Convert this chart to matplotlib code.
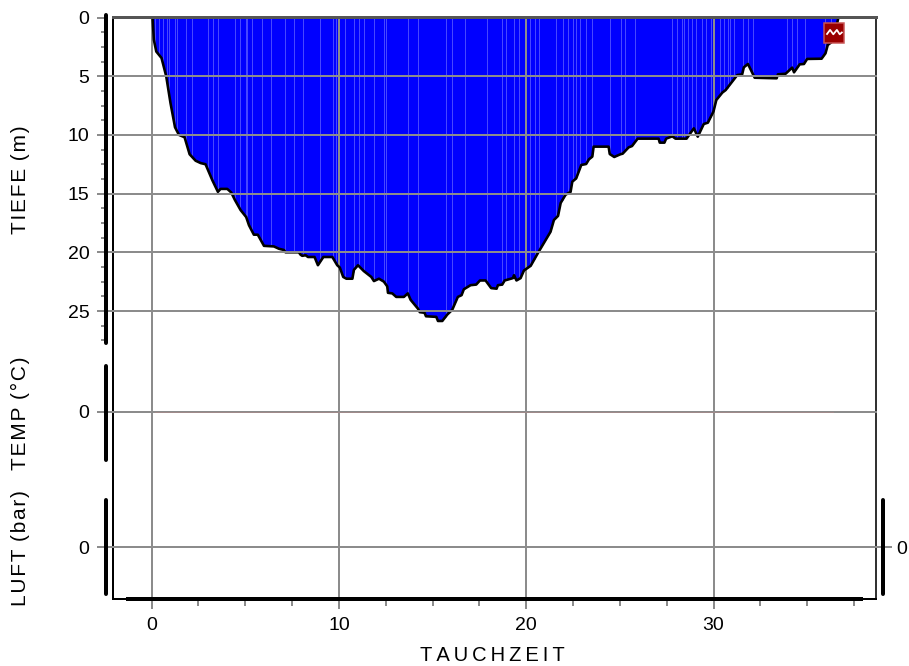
import matplotlib
matplotlib.use("Agg")
import matplotlib.pyplot as plt
import numpy as np
from matplotlib.path import Path

plt.rcParams['font.family'] = ['Liberation Sans', 'DejaVu Sans']

time_min = [0.05,0.12,0.25,0.53,0.78,1.01,1.25,1.46,1.76,2.03,2.35,2.62,2.88,3.24,3.54,3.68,4.04,4.25,4.45,4.75,5.05,5.2,5.46,5.67,6.0,6.53,6.8,7.06,7.15,7.86,7.95,
            8.04,8.22,8.35,8.7,8.88,9.17,9.65,9.91,10.05,10.23,10.4,10.72,10.8,11.02,11.33,11.73,11.87,12.14,12.4,12.58,12.62,12.85,13.06,13.47,13.68,13.83,14.22,14.32,14.57,14.65,15.2,15.29,15.52,15.79,16.05,16.35,16.55,16.67,17.03,17.33,17.53,17.83,18.13,18.42,18.49,18.72,18.85,19.29,19.35,19.48,19.7,19.88,20.24,20.63,21.3,21.48,21.7,21.84,22.1,22.37,
            22.46,22.67,22.94,23.2,23.35,23.53,23.6,24.4,24.46,24.7,25.03,25.15,25.47,25.65,25.95,27.07,27.13,27.38,27.47,27.8,27.97,28.56,28.95,29.16,29.48,29.7,30.0,
            30.15,30.47,30.65,31.27,31.53,31.62,31.84,32.2,33.37,33.44,33.85,34.2,34.3,34.6,34.83,35.0,35.77,35.98,36.1,36.3,36.5,36.67]
depth_m = [0,1.9,2.9,3.45,5.0,7.3,9.35,10.0,10.2,11.65,12.2,12.4,12.5,13.85,14.85,14.6,14.6,14.9,15.55,16.4,17.0,17.7,18.5,18.5,19.45,19.5,19.7,19.8,20.0,20.0,20.2,
           20.3,20.25,20.4,20.4,21.1,20.4,20.4,21.1,21.3,22.1,22.25,22.25,21.5,21.1,21.6,22.1,22.45,22.25,22.5,22.9,23.45,23.5,23.8,23.8,23.5,24.05,24.8,25.1,25.15,25.45,25.5,25.85,25.85,25.3,24.9,23.8,23.65,23.15,22.8,22.75,22.4,22.4,23.05,23.1,22.8,22.75,22.4,22.2,21.95,22.4,22.2,21.55,21.15,20.05,18.25,17.25,16.9,15.8,15.1,14.85,
           13.99,13.7,12.56,12.48,12.08,11.85,11.0,11.0,11.63,11.88,11.65,11.6,11.06,10.95,10.32,10.32,10.66,10.66,10.32,10.12,10.32,10.32,9.44,10.15,9.07,8.96,8.0,
           7.03,6.4,6.18,4.9,4.84,4.24,3.96,5.13,5.18,4.84,4.79,4.27,4.67,3.99,3.96,3.53,3.51,3.05,2.34,2.1,1.2,0]
stripe_times = [0.19,0.37,0.6,0.81,0.95,1.25,1.34,1.84,2.14,3.02,3.28,3.55,4.47,4.74,5.04,5.12,5.36,5.9,6.4,7.1,7.6,
                8.1,9.0,9.7,9.85,10.35,10.78,11.05,11.36,11.9,12.4,12.5,13.7,14.2,15.7,16.05,16.75,17.9,18.7,18.9,19.35,19.6,20.2,20.45,20.7,
                21.6,21.95,22.25,22.5,22.65,22.85,23.2,23.5,24.45,25.05,25.3,25.8,
                27.8,28.05,28.3,28.4,28.65,28.85,29.05,29.4,29.6,29.85,30.35,30.55,30.75,30.9,31.1,31.6,31.85,32.1,33.95,34.2,34.45,34.9,35.95,36.25]
temp_time = [0.2, 36.4]
temp_value = [0, 0]
depth_majors = [0, 5, 10, 15, 20, 25]
depth_minors = [1.25,2.5,3.75,6.25,7.5,8.75,11.25,12.5,13.75,16.25,17.5,18.75,21.25,22.5,23.75,26.25,27.5]
time_majors = [0, 10, 20, 30]
time_minors = [2.5,5,7.5,12.5,15,17.5,22.5,25,27.5,32.5,35,37.5]
event_time = [36.44]
event_depth = [1.28]

W, H = 909, 666
L, R, T, B = 113, 875.5, 17, 599
X0 = 151.6
pos = [L/W, 1-B/H, (R-L)/W, (B-T)/H]
px = 0.72
GRAY = '#8c8c8c'
FS = 14
LABEL_FS = 15

fig = plt.figure(figsize=(W/100, H/100), dpi=100, facecolor='white')
ax = fig.add_axes(pos)
xlim = ((L-X0)/18.73, (R-X0)/18.73)
ax.set_xlim(xlim)
ax.set_ylim((B-17.5)/11.74, (T-17.5)/11.74)

ax.fill_between(time_min, 0, depth_m, color='#0000ff', lw=0, zorder=1)
st = np.array(stripe_times)
ax.vlines(st, 0, np.interp(st, time_min, depth_m), color='#5a5aff', lw=0.8*px, zorder=1.5)
ax.plot(time_min, depth_m, color='black', lw=2.6*px, zorder=3)

# frame
for s, c, w in [('left','black',2),('right','#333333',2),('top','#555555',3),('bottom','black',2)]:
    ax.spines[s].set_color(c)
    ax.spines[s].set_linewidth(w*px)
    ax.spines[s].set_zorder(5)

# time axis
ax.set_xticks(time_majors)
ax.set_xticks(time_minors, minor=True)
ax.tick_params(axis='x', which='major', length=10*px, width=2*px, color=GRAY, labelsize=FS, pad=5.5)
ax.tick_params(axis='x', which='minor', length=7*px, width=2*px, color=GRAY)
ax.grid(True, axis='x', which='major', color=GRAY, lw=2*px, zorder=2)
ax.set_axisbelow(False)
ax.set_xlabel('T\u2009A\u2009U\u2009C\u2009H\u2009Z\u2009E\u2009I\u2009T', fontsize=14.5)
ax.xaxis.set_label_coords((492-L)/(R-L), -(646-B)/(B-T), transform=ax.transAxes)
ax.xaxis.label.set_va('top')
ax.set_yticks([])

def overlay(ylim):
    a = fig.add_axes(pos)
    a.patch.set_visible(False)
    a.set_xlim(xlim)
    a.set_ylim(ylim)
    a.xaxis.set_visible(False)
    for s in a.spines.values():
        s.set_visible(False)
    return a

def side_axis(a, ticks, bounds, label=None, label_y=None, side='left'):
    sp = a.spines[side]
    sp.set_visible(True)
    sp.set_position(('outward', 7.5*px))
    sp.set_bounds(*bounds)
    sp.set_linewidth(4*px)
    sp.set_color('black')
    sp.set_capstyle('round')
    a.yaxis.set_ticks_position(side)
    a.set_yticks(ticks)
    pad = 7*px if side == 'left' else 4*px
    a.tick_params(axis='y', which='major', length=9*px, width=2*px, color=GRAY, labelsize=FS, pad=pad)
    a.tick_params(axis='y', which='minor', length=5*px, width=2*px, color=GRAY)
    if label:
        a.set_ylabel(label, fontsize=LABEL_FS)
        a.yaxis.set_label_coords((30-L)/(R-L), 1-(label_y-T)/(B-T))

def grid_h(a, vals, left_px=L-8, right_px=R):
    tr = a.get_yaxis_transform()
    for v in vals:
        a.plot([(left_px-L)/(R-L), (right_px-L)/(R-L)], [v, v], transform=tr, color=GRAY, lw=2*px, clip_on=False, zorder=2)

# depth axis
ad = overlay(ax.get_ylim())
side_axis(ad, depth_majors, (-0.2, 27.73), 'T\u200aI\u200aE\u200aF\u200aE\u200a (\u200am\u200a)', 180)
ad.set_yticks(depth_minors, minor=True)
grid_h(ad, depth_majors[1:])

# temperature axis
at = overlay((-(B-412), 412-T))
side_axis(at, [0], (-48, 46), 'T\u200aE\u200aM\u200aP\u200a (\u200a°\u200aC\u200a)', 413)
grid_h(at, [0])
at.plot(temp_time, temp_value, color='#a08a8a', lw=1*px, zorder=2.5)

# air axis
aa = overlay((-(B-547), 547-T))
side_axis(aa, [0], (-47, 47), 'L\u200aU\u200aF\u200aT\u200a (\u200ab\u200aa\u200ar\u200a)', 548)
grid_h(aa, [0], right_px=R+8)

ar = overlay((-(B-547), 547-T))
side_axis(ar, [0], (-47, 47), side='right')

# thick time baseline
ab = overlay((0, 1))
ab.xaxis.set_visible(True)
ab.set_xticks([])
sb = ab.spines['bottom']
sb.set_visible(True)
sb.set_bounds((128-X0)/18.73, (861-X0)/18.73)
sb.set_linewidth(4*px)
sb.set_color('black')
ab.set_yticks([])

# event marker
top = overlay(ax.get_ylim())
top.set_yticks([])
top.plot(event_time, event_depth, ls='none', marker='s', ms=19.5*px, mfc='#990000', mec='#c85555', mew=1.5*px, zorder=6)
zig = Path([(-1,-.15),(-.55,.45),(-.15,-.1),(.3,.45),(.65,-.1),(1,.2)],
           [Path.MOVETO]+[Path.LINETO]*5)
top.plot(event_time, event_depth, ls='none', marker=zig, ms=16*px, mfc='none', mec='white', mew=1.8*px, zorder=7)

fig.savefig('out.png', dpi=100)
